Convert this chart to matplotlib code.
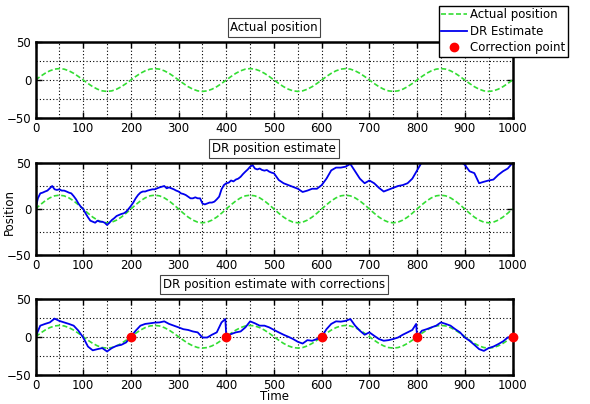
import matplotlib
matplotlib.use("Agg")
import matplotlib.pyplot as plt
from matplotlib.ticker import MultipleLocator
from matplotlib.lines import Line2D

# ---------------- data ----------------
time_step10 = list(range(0, 1001, 10))

actual_position = [
    0, 4.6, 8.8, 12.1, 14.3, 15, 14.3, 12.1, 8.8, 4.6,
    0, -4.6, -8.8, -12.1, -14.3, -15, -14.3, -12.1, -8.8, -4.6,
    0, 4.6, 8.8, 12.1, 14.3, 15, 14.3, 12.1, 8.8, 4.6,
    0, -4.6, -8.8, -12.1, -14.3, -15, -14.3, -12.1, -8.8, -4.6,
    0, 4.6, 8.8, 12.1, 14.3, 15, 14.3, 12.1, 8.8, 4.6,
    0, -4.6, -8.8, -12.1, -14.3, -15, -14.3, -12.1, -8.8, -4.6,
    0, 4.6, 8.8, 12.1, 14.3, 15, 14.3, 12.1, 8.8, 4.6,
    0, -4.6, -8.8, -12.1, -14.3, -15, -14.3, -12.1, -8.8, -4.6,
    0, 4.6, 8.8, 12.1, 14.3, 15, 14.3, 12.1, 8.8, 4.6,
    0, -4.6, -8.8, -12.1, -14.3, -15, -14.3, -12.1, -8.8, -4.6,
    0,
]

dr_time = list(range(0, 500, 5)) + list(range(500, 1001, 10))
dr_estimate = [
    # t = 0 .. 495 (step 5)
    0, 11.6, 17, 17.8, 19, 20, 22.5, 25, 21.4, 20.7,
    21.4, 20, 20, 19, 17.8, 17, 14, 10.5, 6, 2.5,
    0, -4.7, -9, -12.7, -13.8, -14.9, -12.7, -13.8, -13.8, -14.9,
    -17.4, -14.9, -12, -10, -7.6, -6.5, -5.4, -4.7, -3, 0,
    3.3, 7, 11.6, 15.2, 17.8, 19, 19, 20, 20.7, 21.4,
    21.4, 22.5, 23.5, 24.3, 25, 22.5, 23.5, 22.5, 21.4, 20,
    19, 17, 16.3, 15.2, 13.4, 11.6, 11.6, 12.7, 11.6, 11.6,
    6, 5, 6, 7, 7, 8, 10.5, 13.4, 21.4, 26,
    28, 28.6, 31, 30, 32, 33, 35, 38, 40.6, 43,
    46, 47.8, 44, 43, 44, 42.4, 41.7, 42.4, 40.6, 39.5,
    # t = 500 .. 1000 (step 10)
    38.8, 31.5, 28, 26, 24, 22, 18.5, 20, 22, 22,
    26, 33, 42, 45, 45, 46, 49, 41, 33, 28,
    31, 28, 23, 19, 21, 23, 25, 26, 28, 33,
    42, 51, 57, 60, 62, 62, 60, 58, 56, 52,
    48, 41, 39, 28, 29.6, 31, 32, 37, 41, 44,
    50,
]

corr_time = [
    0, 10, 20, 30, 40, 50, 60, 70, 80, 90,
    100, 110, 120, 130, 140, 150, 160, 170, 180, 190,
    200, 210, 220, 230, 240, 250, 260, 270, 280, 290,
    300, 310, 320, 330, 340, 350, 360, 370, 380, 390, 398,
    400, 410, 420, 430, 440, 450, 460, 470, 480, 490,
    500, 510, 520, 530, 540, 550, 560, 570, 580, 590,
    600, 610, 620, 630, 640, 650, 660, 670, 680, 690,
    700, 710, 720, 730, 740, 750, 760, 770, 780, 790, 798,
    800, 810, 820, 830, 840, 850, 860, 870, 880, 890,
    900, 910, 920, 930, 940, 950, 960, 970, 980, 990,
    1000,
]
dr_corrected = [
    0, 14.7, 17, 19, 24, 21, 19, 17, 14.7, 8,
    -1, -13, -18, -16.4, -15, -19.5, -15, -12, -10.7, -7.5,
    0, 8, 14.7, 17, 17.8, 18.7, 19, 20.4, 17, 14.7,
    12.4, 10, 9, 7, 5.8, -1, -1, 2.7, 5.8, 19, 23.5,
    0, 3.5, 5.8, 7, 12.4, 20.4, 17.8, 14.7, 14.7, 12.4,
    9, 5.8, 2.7, 0, -3, -6.7, -9, -4.5, -5.3, -3,
    0, 10, 17, 20.4, 20, 21, 23.5, 14.7, 8, 2.7,
    5.8, 1.3, -3, -5.3, -4.5, -3, -1, 2.7, 5.8, 9, 17,
    0, 8, 10, 12.4, 14.7, 19, 17, 14.7, 10, 5.8,
    -1, -5.3, -10.7, -16.4, -18.7, -15, -13, -9.8, -6.2, -1,
    0,
]

correction_time = [200, 400, 600, 800, 1000]
correction_value = [0, 0, 0, 0, 0]

titles = ["Actual position", "DR position estimate",
          "DR position estimate with corrections"]

# ---------------- style ----------------
plt.rcParams['font.family'] = ['DejaVu Sans']
FS = 8.5
GREEN = '#33dd33'
BLUE = '#0000ee'
RED = '#ff0000'

fig = plt.figure(figsize=(5.9, 4.04), dpi=100)
W, H = 590, 404
left = 35.5 / W
width = 477 / W
boxes = [(42, 118), (163, 255), (299, 374.5)]
axes = []
for (top, bot) in boxes:
    ax = fig.add_axes([left, 1 - bot / H, width, (bot - top) / H])
    axes.append(ax)


def style(ax):
    ax.set_xlim(0, 1000)
    ax.set_ylim(-50, 50)
    ax.xaxis.set_major_locator(MultipleLocator(100))
    ax.xaxis.set_minor_locator(MultipleLocator(50))
    ax.yaxis.set_major_locator(MultipleLocator(50))
    ax.yaxis.set_minor_locator(MultipleLocator(25))
    ax.tick_params(which='both', direction='in', top=True, right=True,
                   labelsize=FS, width=1.0)
    ax.tick_params(which='major', length=4, pad=3)
    ax.tick_params(which='minor', length=0)
    ax.grid(True, which='both', color='black', linestyle=(0, (1, 2)),
            linewidth=0.8)
    for sp in ax.spines.values():
        sp.set_linewidth(1.8)
        sp.set_zorder(5)
    ax.set_axisbelow(True)


for i, ax in enumerate(axes):
    style(ax)
    ax.plot(time_step10, actual_position, color=GREEN, linestyle='--',
            linewidth=1.2, dashes=(3, 1.5), zorder=3)
    ax.text(0.5, 1.0 + 8 / ((boxes[i][1] - boxes[i][0])), titles[i],
            transform=ax.transAxes, ha='center', va='bottom', fontsize=FS,
            bbox=dict(boxstyle='square,pad=0.22', facecolor='white',
                      edgecolor='#444444', linewidth=0.8))

axes[1].plot(dr_time, dr_estimate, color=BLUE, linewidth=1.3, zorder=4)
axes[2].plot(corr_time, dr_corrected, color=BLUE, linewidth=1.3, zorder=4)
axes[2].plot(correction_time, correction_value, linestyle='none', marker='o',
             markersize=6, color=RED, markeredgecolor=RED, zorder=6,
             clip_on=False)

fig.text(3 / W, 1 - 212 / H, 'Position', rotation=90, ha='left',
         va='center', fontsize=FS)
fig.text(274 / W, 1 - 397 / H, 'Time', ha='center', va='center', fontsize=FS)

handles = [
    Line2D([], [], color=GREEN, linestyle='--', linewidth=1.2, dashes=(3, 1.5)),
    Line2D([], [], color=BLUE, linewidth=1.3),
    Line2D([], [], color=RED, marker='o', linestyle='none', markersize=6),
]
leg = fig.legend(handles, ['Actual position', 'DR Estimate', 'Correction point'],
                 loc='upper right', bbox_to_anchor=(568 / W, 1 - 6 / H),
                 fontsize=FS, frameon=True, fancybox=False, framealpha=1,
                 edgecolor='black', handlelength=2.2, handletextpad=0.3,
                 borderpad=0.2, labelspacing=0.3, borderaxespad=0)
leg.get_frame().set_linewidth(1.0)
leg.set_zorder(10)

fig.savefig('out.png', dpi=100)
